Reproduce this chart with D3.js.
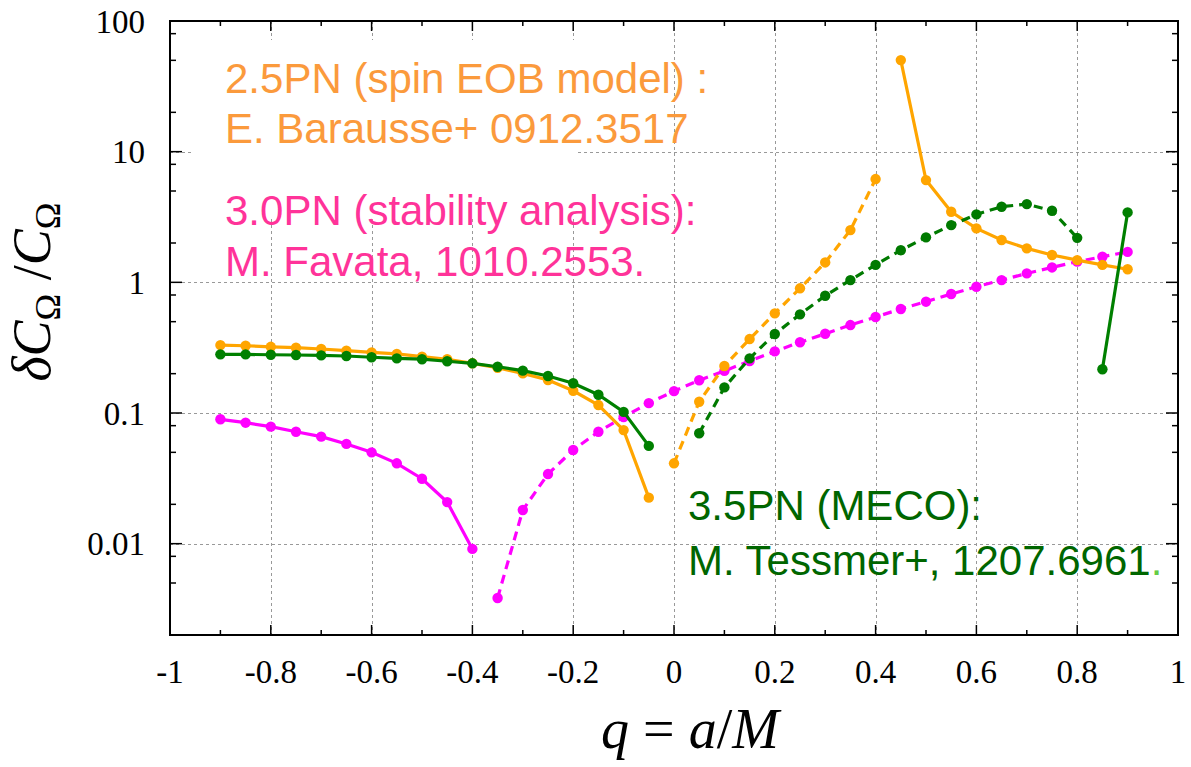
<!DOCTYPE html>
<html>
<head>
<meta charset="utf-8">
<script src="https://cdn.jsdelivr.net/npm/d3@7"></script>
<style>
  body { margin: 0; background: #fff; }
  svg { display: block; }
</style>
</head>
<body>
<svg id="chart" width="1191" height="767"></svg>
<script>
// values, q = a/M against dC/C
const qEobLeft = [-0.9, -0.85, -0.8, -0.75, -0.7, -0.65, -0.6, -0.55, -0.5, -0.45, -0.4, -0.35, -0.3, -0.25, -0.2, -0.15, -0.1, -0.05];
const eobLeft = [0.331, 0.327, 0.321, 0.316, 0.309, 0.300, 0.291, 0.283, 0.270, 0.258, 0.240, 0.222, 0.201, 0.179, 0.148, 0.115, 0.074, 0.0225];
const qEobMid = [0, 0.05, 0.1, 0.15, 0.2, 0.25, 0.3, 0.35, 0.4];
const eobMid = [0.0412, 0.122, 0.229, 0.368, 0.579, 0.900, 1.42, 2.51, 6.17];
const qEobRight = [0.45, 0.5, 0.55, 0.6, 0.65, 0.7, 0.75, 0.8, 0.85, 0.9];
const eobRight = [50.2, 6.06, 3.47, 2.59, 2.11, 1.82, 1.62, 1.48, 1.36, 1.26];

const qFavLeft = [-0.9, -0.85, -0.8, -0.75, -0.7, -0.65, -0.6, -0.55, -0.5, -0.45, -0.4];
const favLeft = [0.0895, 0.0843, 0.0786, 0.0719, 0.0659, 0.0580, 0.0500, 0.0412, 0.0314, 0.0208, 0.00912];
const qFavRight = [-0.35, -0.3, -0.25, -0.2, -0.15, -0.1, -0.05, 0, 0.05, 0.1, 0.15, 0.2, 0.25, 0.3, 0.35, 0.4, 0.45, 0.5, 0.55, 0.6, 0.65, 0.7, 0.75, 0.8, 0.85, 0.9];
const favRight = [0.00384, 0.0181, 0.0341, 0.0521, 0.0719, 0.0932, 0.119, 0.147, 0.178, 0.210, 0.250, 0.296, 0.348, 0.404, 0.471, 0.543, 0.625, 0.711, 0.814, 0.925, 1.04, 1.17, 1.30, 1.44, 1.57, 1.71];

const qMecoLeft = [-0.9, -0.85, -0.8, -0.75, -0.7, -0.65, -0.6, -0.55, -0.5, -0.45, -0.4, -0.35, -0.3, -0.25, -0.2, -0.15, -0.1, -0.05];
const mecoLeft = [0.281, 0.281, 0.279, 0.278, 0.276, 0.273, 0.267, 0.262, 0.258, 0.249, 0.240, 0.226, 0.211, 0.192, 0.169, 0.138, 0.102, 0.056];
const qMecoMid = [0.05, 0.1, 0.15, 0.2, 0.25, 0.3, 0.35, 0.4, 0.45, 0.5, 0.55, 0.6, 0.65, 0.7, 0.75, 0.8];
const mecoMid = [0.0700, 0.157, 0.262, 0.402, 0.569, 0.790, 1.04, 1.36, 1.76, 2.21, 2.74, 3.31, 3.79, 3.97, 3.53, 2.19];
const qMecoRight = [0.85, 0.9];
const mecoRight = [0.216, 3.43];

const xTicks = [-1, -0.8, -0.6, -0.4, -0.2, 0, 0.2, 0.4, 0.6, 0.8, 1];
const xMinor = [-0.9, -0.7, -0.5, -0.3, -0.1, 0.1, 0.3, 0.5, 0.7, 0.9];
const yTicks = [0.01, 0.1, 1, 10, 100];
const yTickLabels = ['0.01', '0.1', '1', '10', '100'];
const yMinor = [0.002, 0.005, 0.008, 0.02, 0.05, 0.08, 0.2, 0.5, 0.8, 2, 5, 8, 20, 50, 80];

const svg = d3.select('#chart');
const box = {left: 170, right: 1178, top: 21, bottom: 635};

const x = d3.scaleLinear().domain([-1, 1]).range([box.left, box.right]);
const y = d3.scaleLog().domain([0.002, 100]).range([box.bottom, box.top]);

const serif = "'Liberation Serif', 'Times New Roman', serif";
const sans = "'Liberation Sans', Arial, sans-serif";

// grid
const grid = svg.append('g').attr('stroke', '#999').attr('stroke-width', 1).attr('stroke-dasharray', '3,3');
grid.selectAll('.gx').data(xTicks.slice(1, -1)).enter().append('line')
  .attr('x1', d => Math.round(x(d)) + 0.5).attr('x2', d => Math.round(x(d)) + 0.5)
  .attr('y1', box.top).attr('y2', box.bottom);
grid.selectAll('.gy').data(yTicks.slice(0, -1)).enter().append('line')
  .attr('y1', d => Math.round(y(d)) + 0.5).attr('y2', d => Math.round(y(d)) + 0.5)
  .attr('x1', box.left).attr('x2', box.right);

// white patch behind the top-left note, as in the original slide
svg.append('rect').attr('x', 192).attr('y', 40).attr('width', 383).attr('height', 178).attr('fill', '#fff');

// ticks on all four sides
const ticks = svg.append('g').attr('stroke', '#000').attr('stroke-width', 1.5);
function hTicks(vals, len) {
  vals.forEach(v => {
    ticks.append('line').attr('x1', x(v)).attr('x2', x(v)).attr('y1', box.bottom).attr('y2', box.bottom - len);
    ticks.append('line').attr('x1', x(v)).attr('x2', x(v)).attr('y1', box.top).attr('y2', box.top + len);
  });
}
function vTicks(vals, len) {
  vals.forEach(v => {
    ticks.append('line').attr('y1', y(v)).attr('y2', y(v)).attr('x1', box.left).attr('x2', box.left + len);
    ticks.append('line').attr('y1', y(v)).attr('y2', y(v)).attr('x1', box.right).attr('x2', box.right - len);
  });
}
hTicks(xTicks, 10);
hTicks(xMinor, 5);
vTicks(yTicks, 12);
vTicks(yMinor, 6);

svg.append('rect')
  .attr('x', box.left).attr('y', box.top)
  .attr('width', box.right - box.left).attr('height', box.bottom - box.top)
  .attr('fill', 'none').attr('stroke', '#000').attr('stroke-width', 2);

// tick labels
svg.append('g').selectAll('text').data(xTicks).enter().append('text')
  .attr('x', d => x(d)).attr('y', 683)
  .attr('text-anchor', 'middle')
  .attr('font-family', serif).attr('font-size', 33)
  .text(d => d3.format('')(d).replace('−', '-'));
svg.append('g').selectAll('text').data(yTicks).enter().append('text')
  .attr('x', 145).attr('y', d => y(d)).attr('dy', '0.35em')
  .attr('text-anchor', 'end')
  .attr('font-family', serif).attr('font-size', 33)
  .text((d, i) => yTickLabels[i]);

// axis titles
const xl = svg.append('text')
  .attr('x', 690).attr('y', 748)
  .attr('text-anchor', 'middle')
  .attr('font-family', serif).attr('font-size', 56);
xl.append('tspan').attr('font-style', 'italic').text('q');
xl.append('tspan').text('\u00a0=\u00a0');
xl.append('tspan').attr('font-style', 'italic').text('a');
xl.append('tspan').text('/');
xl.append('tspan').attr('font-style', 'italic').text('M');

const yl = svg.append('text')
  .attr('transform', 'translate(50,292) rotate(-90)')
  .attr('text-anchor', 'middle')
  .attr('font-family', serif).attr('font-size', 54);
yl.append('tspan').attr('font-style', 'italic').text('δC');
yl.append('tspan').attr('font-size', 36).attr('dy', 10).text('Ω');
yl.append('tspan').attr('dy', -10).text('\u00a0/');
yl.append('tspan').attr('font-style', 'italic').text('C');
yl.append('tspan').attr('font-size', 36).attr('dy', 10).text('Ω');

// curves
const line = d3.line().x(d => x(d[0])).y(d => y(d[1]));
function series(qs, vals, color, dashed) {
  const pts = d3.zip(qs, vals);
  const g = svg.append('g');
  g.append('path').datum(pts)
    .attr('d', line)
    .attr('fill', 'none')
    .attr('stroke', color)
    .attr('stroke-width', 3.2)
    .attr('stroke-dasharray', dashed ? '9,6' : null);
  g.selectAll('circle').data(pts).enter().append('circle')
    .attr('cx', d => x(d[0])).attr('cy', d => y(d[1]))
    .attr('r', 5.2).attr('fill', color);
}
series(qFavLeft, favLeft, '#ff00ff', false);
series(qFavRight, favRight, '#ff00ff', true);
series(qEobLeft, eobLeft, '#ffa500', false);
series(qEobMid, eobMid, '#ffa500', true);
series(qEobRight, eobRight, '#ffa500', false);
series(qMecoLeft, mecoLeft, '#008000', false);
series(qMecoMid, mecoMid, '#007a00', true);
series(qMecoRight, mecoRight, '#008000', false);

// notes
function note(x0, y0, lines, color) {
  const t = svg.append('text').attr('font-family', sans).attr('font-size', 42).attr('fill', color);
  lines.forEach((s, i) => t.append('tspan').attr('x', x0).attr('y', y0[i]).text(s));
  return t;
}
note(225, [93, 143], ['2.5PN (spin EOB model) :', 'E. Barausse+ 0912.3517'], '#fb9a3c');
note(225, [225, 276], ['3.0PN (stability analysis):', 'M. Favata, 1010.2553.'], '#ff3399');
const meco = note(688, [520, 575], ['3.5PN (MECO):', 'M. Tessmer+, 1207.6961'], '#006600');
meco.append('tspan').attr('fill', '#66cc44').text('.');
</script>
</body>
</html>
